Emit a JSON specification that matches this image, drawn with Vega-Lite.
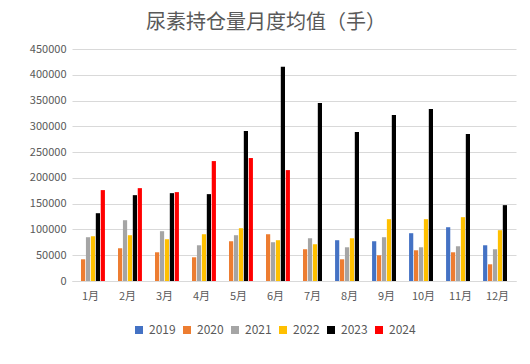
{
  "$schema": "https://vega.github.io/schema/vega-lite/v6.json",
  "autosize": {"type": "none"},
  "padding": {"left": 72, "top": 49, "right": 14, "bottom": 83},
  "width": 444,
  "height": 232,
  "background": "white",
  "title": {
    "text": "尿素持仓量月度均值（手）",
    "font": "Noto Sans CJK SC",
    "fontSize": 20,
    "fontWeight": "normal",
    "color": "#595959",
    "anchor": "middle",
    "dx": -28,
    "offset": 10
  },
  "config": {
    "view": {"stroke": null},
    "font": "Noto Sans CJK SC"
  },
  "data": {
    "values": [
      {"month": "1月", "year": "2020", "value": 42100},
      {"month": "1月", "year": "2021", "value": 84900},
      {"month": "1月", "year": "2022", "value": 86800},
      {"month": "1月", "year": "2023", "value": 131500},
      {"month": "1月", "year": "2024", "value": 176300},
      {"month": "2月", "year": "2020", "value": 63500},
      {"month": "2月", "year": "2021", "value": 117900},
      {"month": "2月", "year": "2022", "value": 88800},
      {"month": "2月", "year": "2023", "value": 166500},
      {"month": "2月", "year": "2024", "value": 180100},
      {"month": "3月", "year": "2020", "value": 55700},
      {"month": "3月", "year": "2021", "value": 96600},
      {"month": "3月", "year": "2022", "value": 81000},
      {"month": "3月", "year": "2023", "value": 170400},
      {"month": "3月", "year": "2024", "value": 172400},
      {"month": "4月", "year": "2020", "value": 46000},
      {"month": "4月", "year": "2021", "value": 69300},
      {"month": "4月", "year": "2022", "value": 90700},
      {"month": "4月", "year": "2023", "value": 168500},
      {"month": "4月", "year": "2024", "value": 232600},
      {"month": "5月", "year": "2020", "value": 77100},
      {"month": "5月", "year": "2021", "value": 88800},
      {"month": "5月", "year": "2022", "value": 102400},
      {"month": "5月", "year": "2023", "value": 291000},
      {"month": "5月", "year": "2024", "value": 238500},
      {"month": "6月", "year": "2020", "value": 90700},
      {"month": "6月", "year": "2021", "value": 75200},
      {"month": "6月", "year": "2022", "value": 79100},
      {"month": "6月", "year": "2023", "value": 415400},
      {"month": "6月", "year": "2024", "value": 215100},
      {"month": "7月", "year": "2020", "value": 61600},
      {"month": "7月", "year": "2021", "value": 82900},
      {"month": "7月", "year": "2022", "value": 71300},
      {"month": "7月", "year": "2023", "value": 345400},
      {"month": "8月", "year": "2019", "value": 79100},
      {"month": "8月", "year": "2020", "value": 42100},
      {"month": "8月", "year": "2021", "value": 65400},
      {"month": "8月", "year": "2022", "value": 82900},
      {"month": "8月", "year": "2023", "value": 289000},
      {"month": "9月", "year": "2019", "value": 77100},
      {"month": "9月", "year": "2020", "value": 49900},
      {"month": "9月", "year": "2021", "value": 84900},
      {"month": "9月", "year": "2022", "value": 119900},
      {"month": "9月", "year": "2023", "value": 322100},
      {"month": "10月", "year": "2019", "value": 92700},
      {"month": "10月", "year": "2020", "value": 59600},
      {"month": "10月", "year": "2021", "value": 65400},
      {"month": "10月", "year": "2022", "value": 119900},
      {"month": "10月", "year": "2023", "value": 333700},
      {"month": "11月", "year": "2019", "value": 104300},
      {"month": "11月", "year": "2020", "value": 55700},
      {"month": "11月", "year": "2021", "value": 67400},
      {"month": "11月", "year": "2022", "value": 123800},
      {"month": "11月", "year": "2023", "value": 285100},
      {"month": "12月", "year": "2019", "value": 69300},
      {"month": "12月", "year": "2020", "value": 32400},
      {"month": "12月", "year": "2021", "value": 61600},
      {"month": "12月", "year": "2022", "value": 98500},
      {"month": "12月", "year": "2023", "value": 147100}
    ]
  },
  "mark": {"type": "bar"},
  "encoding": {
    "x": {
      "field": "month",
      "type": "nominal",
      "sort": ["1月","2月","3月","4月","5月","6月","7月","8月","9月","10月","11月","12月"],
      "scale": {"paddingInner": 0.22, "paddingOuter": 0.11},
      "axis": {
        "title": null,
        "labelAngle": 0,
        "labelFontSize": 11,
        "labelColor": "#595959",
        "ticks": false,
        "labelPadding": 9,
        "domainColor": "#d9d9d9",
        "grid": false
      }
    },
    "xOffset": {
      "field": "year",
      "type": "nominal",
      "scale": {"domain": ["2019","2020","2021","2022","2023","2024"], "paddingInner": 0.15}
    },
    "y": {
      "field": "value",
      "type": "quantitative",
      "scale": {"domain": [0, 450000], "nice": false},
      "axis": {
        "title": null,
        "values": [0,50000,100000,150000,200000,250000,300000,350000,400000,450000],
        "format": "d",
        "labelFontSize": 11,
        "labelColor": "#595959",
        "ticks": false,
        "domain": false,
        "labelPadding": 6,
        "gridColor": "#d9d9d9"
      }
    },
    "color": {
      "field": "year",
      "type": "nominal",
      "scale": {
        "domain": ["2019","2020","2021","2022","2023","2024"],
        "range": ["#4472C4","#ED7D31","#A5A5A5","#FFC000","#000000","#FF0000"]
      },
      "legend": {
        "title": null,
        "orient": "none",
        "direction": "horizontal",
        "legendX": 61,
        "legendY": 275,
        "symbolType": "square",
        "symbolSize": 64,
        "symbolStrokeWidth": 0,
        "labelFontSize": 12,
        "labelColor": "#595959",
        "labelOffset": 4,
        "columnPadding": 5
      }
    }
  }
}
